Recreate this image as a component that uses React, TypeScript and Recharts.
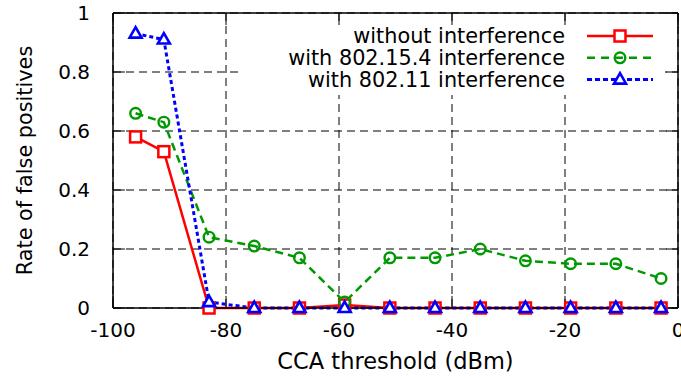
import {
  LineChart,
  Line,
  XAxis,
  YAxis,
  CartesianGrid,
  Legend,
  ReferenceLine,
} from "recharts";

// CCA threshold (dBm) for each measurement
const threshold = [-96, -91, -83, -75, -67, -59, -51, -43, -35, -27, -19, -11, -3];
// rate of false positives per scenario
const noInterference = [0.58, 0.53, 0, 0, 0, 0.01, 0, 0, 0, 0, 0, 0, 0];
const with802154 = [0.66, 0.63, 0.24, 0.21, 0.17, 0.02, 0.17, 0.17, 0.2, 0.16, 0.15, 0.15, 0.1];
const with80211 = [0.93, 0.91, 0.02, 0, 0, 0, 0, 0, 0, 0, 0, 0, 0];

const xTicks = [-100, -80, -60, -40, -20, 0];
const yTicks = [0, 0.2, 0.4, 0.6, 0.8, 1];
const seriesNames = [
  "without interference",
  "with 802.15.4 interference",
  "with 802.11 interference",
];

const RED = "#ff0000";
const GREEN = "#009a00";
const BLUE = "#0000ff";
const FONT = "'DejaVu Sans'";

const data = threshold.map((t, i) => ({
  t,
  none: noInterference[i],
  zigbee: with802154[i],
  wifi: with80211[i],
}));

// inward tick length, in axis units (~12px)
const TICK_X = 2.1;
const TICK_Y = 0.041;

function SquareMark({ cx, cy }: { cx: number; cy: number }) {
  const s = 11;
  return (
    <rect
      x={cx - s / 2}
      y={cy - s / 2}
      width={s}
      height={s}
      fill="#fff"
      stroke={RED}
      strokeWidth={2.5}
    />
  );
}

function CircleMark({ cx, cy }: { cx: number; cy: number }) {
  return <circle cx={cx} cy={cy} r={5.3} fill="none" stroke={GREEN} strokeWidth={2.4} />;
}

function TriangleMark({ cx, cy }: { cx: number; cy: number }) {
  const pts = `${cx},${cy - 6.5} ${cx - 6},${cy + 4} ${cx + 6},${cy + 4}`;
  return <polygon points={pts} fill="#fff" stroke={BLUE} strokeWidth={2.6} />;
}

const makeDot = (Mark: typeof SquareMark) => (p: any) => {
  if (p.cx == null || p.cy == null) return <g key={p.index} />;
  return <Mark key={p.index} cx={p.cx} cy={p.cy} />;
};

const legendRows = [
  { name: seriesNames[0], color: RED, dash: undefined, Mark: SquareMark },
  { name: seriesNames[1], color: GREEN, dash: "8 6", Mark: CircleMark },
  { name: seriesNames[2], color: BLUE, dash: "5 3", Mark: TriangleMark },
];

function KeyBox() {
  return (
    <svg width={425} height={70} style={{ display: "block" }}>
      <rect x={0} y={0} width={425} height={70} fill="#fff" />
      {legendRows.map((r, i) => {
        const y = 11 + i * 21.8;
        return (
          <g key={r.name}>
            <text
              x={325}
              y={y + 7}
              textAnchor="end"
              style={{ fontFamily: FONT, fontSize: 20.8 }}
              fill="#000"
            >
              {r.name}
            </text>
            <line
              x1={347}
              x2={413}
              y1={y}
              y2={y}
              stroke={r.color}
              strokeWidth={i === 2 ? 3 : 2.5}
              strokeDasharray={r.dash}
            />
            <r.Mark cx={380} cy={y} />
          </g>
        );
      })}
    </svg>
  );
}

const tickStyle = { fontSize: 20, fontFamily: FONT, fill: "#000" };

export default function App() {
  return (
    <div
      style={{
        position: "absolute",
        left: 0,
        top: 0,
        background: "#fff",
        fontFamily: FONT,
      }}
    >
      <LineChart
        width={681}
        height={378}
        data={data}
        margin={{ top: 13, right: 3, bottom: 0, left: 0 }}
        style={{ fontFamily: FONT }}
      >
        <CartesianGrid stroke="#000" strokeDasharray="8 5" strokeWidth={1} />
        <XAxis
          dataKey="t"
          type="number"
          domain={[-100, 0]}
          ticks={xTicks}
          interval={0}
          height={70}
          tickSize={0}
          tickMargin={15}
          tickLine={false}
          axisLine={{ stroke: "#000", strokeWidth: 1.5 }}
          tick={tickStyle}
          label={({ viewBox }: any) => (
            <text
              x={viewBox.x + viewBox.width / 2}
              y={369}
              textAnchor="middle"
              style={{ fontFamily: FONT, fontSize: 22.5 }}
              fill="#000"
            >
              CCA threshold (dBm)
            </text>
          )}
        />
        <YAxis
          type="number"
          domain={[0, 1]}
          ticks={yTicks}
          interval={0}
          width={113}
          tickSize={0}
          tickMargin={23}
          tickLine={false}
          axisLine={{ stroke: "#000", strokeWidth: 1.5 }}
          tick={tickStyle}
          label={({ viewBox }: any) => (
            <text
              transform={`translate(32, ${viewBox.y + viewBox.height / 2}) rotate(-90)`}
              textAnchor="middle"
              style={{ fontFamily: FONT, fontSize: 20.8 }}
              fill="#000"
            >
              Rate of false positives
            </text>
          )}
        />
        <ReferenceLine y={1} stroke="#000" strokeWidth={1.5} />
        <ReferenceLine x={0} stroke="#000" strokeWidth={1.5} />
        {xTicks.map((t) => (
          <ReferenceLine
            key={`xb${t}`}
            segment={[{ x: t, y: 0 }, { x: t, y: TICK_Y }]}
            stroke="#000"
          />
        ))}
        {xTicks.map((t) => (
          <ReferenceLine
            key={`xt${t}`}
            segment={[{ x: t, y: 1 }, { x: t, y: 1 - TICK_Y }]}
            stroke="#000"
          />
        ))}
        {yTicks.map((t) => (
          <ReferenceLine
            key={`yl${t}`}
            segment={[{ x: -100, y: t }, { x: -100 + TICK_X, y: t }]}
            stroke="#000"
          />
        ))}
        {yTicks.map((t) => (
          <ReferenceLine
            key={`yr${t}`}
            segment={[{ x: 0, y: t }, { x: -TICK_X, y: t }]}
            stroke="#000"
          />
        ))}
        <Line
          dataKey="none"
          name={seriesNames[0]}
          type="linear"
          stroke={RED}
          strokeWidth={2.5}
          dot={makeDot(SquareMark)}
          isAnimationActive={false}
        />
        <Line
          dataKey="zigbee"
          name={seriesNames[1]}
          type="linear"
          stroke={GREEN}
          strokeWidth={2.5}
          strokeDasharray="8 5"
          dot={makeDot(CircleMark)}
          isAnimationActive={false}
        />
        <Line
          dataKey="wifi"
          name={seriesNames[2]}
          type="linear"
          stroke={BLUE}
          strokeWidth={3}
          strokeDasharray="4 3"
          dot={makeDot(TriangleMark)}
          isAnimationActive={false}
        />
        <Legend
          layout="horizontal"
          verticalAlign="middle"
          align="center"
          content={() => <KeyBox />}
          wrapperStyle={{ left: 240, top: 25, width: 425, height: 70 }}
        />
      </LineChart>
    </div>
  );
}
